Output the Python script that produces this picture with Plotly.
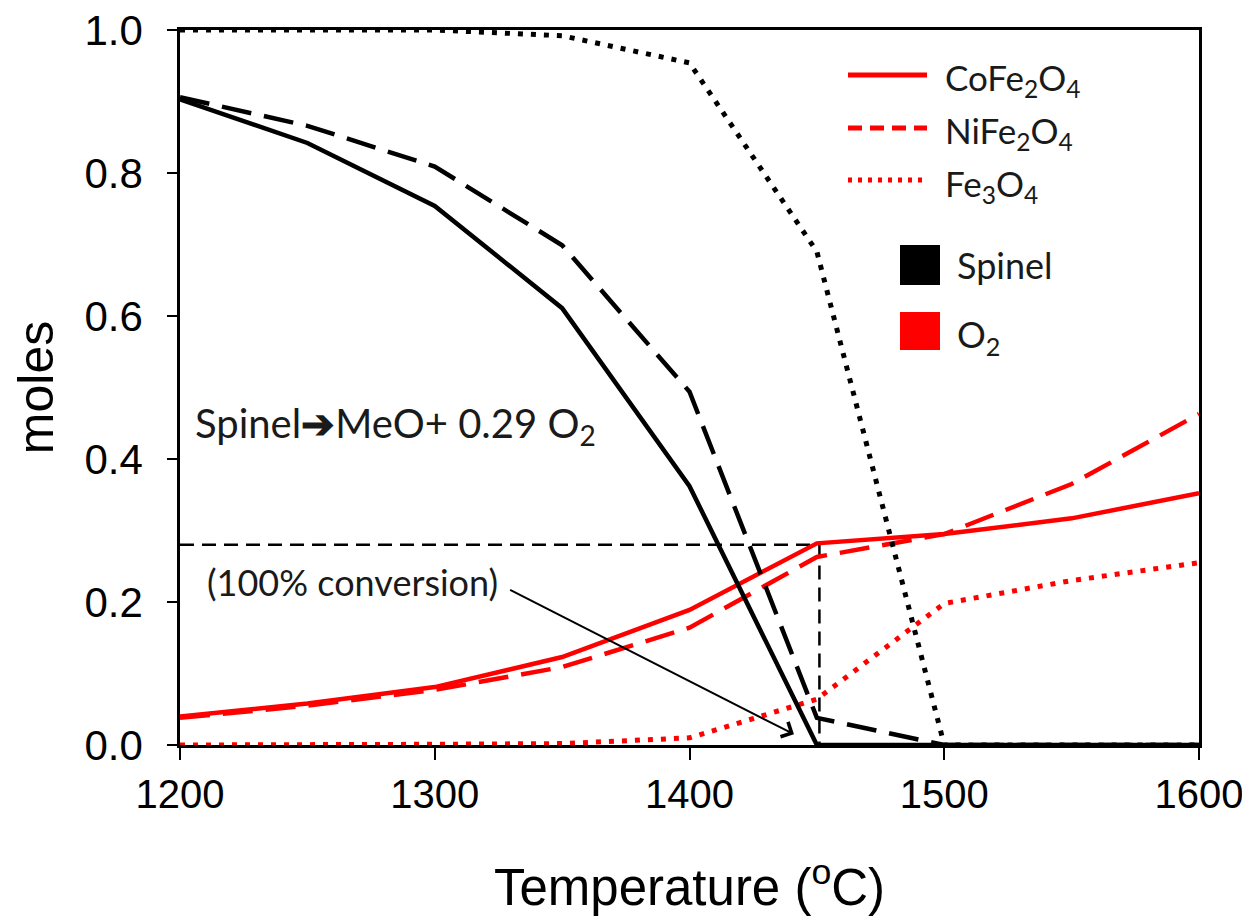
import plotly.graph_objects as go

# ---------------- data ----------------
temperature = [1200, 1250, 1300, 1350, 1400, 1450, 1500, 1550, 1600]

spinel_cofe2o4 = [0.903, 0.842, 0.754, 0.611, 0.362, 0.0, 0.0, 0.0, 0.0]
spinel_nife2o4 = [0.906, 0.866, 0.809, 0.699, 0.494, 0.038, 0.0, 0.0, 0.0]
spinel_fe3o4 = [1.0, 1.0, 1.0, 0.992, 0.954, 0.690, 0.0, 0.0, 0.0]

o2_cofe2o4 = [0.040, 0.058, 0.081, 0.123, 0.189, 0.282, 0.295, 0.317, 0.352]
o2_nife2o4 = [0.038, 0.055, 0.077, 0.109, 0.164, 0.263, 0.295, 0.365, 0.463]
o2_fe3o4 = [0.0, 0.0, 0.001, 0.002, 0.010, 0.064, 0.198, 0.230, 0.255]

conversion_T = [1200, 1451, 1451]
conversion_moles = [0.28, 0.28, 0.0]

x_ticks = [1200, 1300, 1400, 1500, 1600]
y_ticks = [0.0, 0.2, 0.4, 0.6, 0.8, 1.0]
y_tick_labels = ["0.0", "0.2", "0.4", "0.6", "0.8", "1.0"]

legend_labels = ["CoFe<sub>2</sub>O<sub>4</sub>", "NiFe<sub>2</sub>O<sub>4</sub>", "Fe<sub>3</sub>O<sub>4</sub>"]
legend_dashes = ["solid", "14px,8px", "4px,6px"]
colour_labels = ["Spinel", "O<sub>2</sub>"]
colours = ["black", "#ff0000"]

RED = "#ff0000"
TXT_FONT = "Lato"
AX_FONT = "Liberation Sans, Arial"

# page body has an 8px margin; figure is offset by it
W, H = 1242, 908
L, R, T, B = 172, 51, 22, 171
PW, PH = W - L - R, H - T - B   # plot area size in px


def px_to_paper(sx, sy):
    """screen-pixel position (reference picture) -> paper coordinates"""
    fx, fy = sx - 8, sy - 8
    return (fx - L) / PW, (H - B - fy) / PH


fig = go.Figure()

# conversion guide (thin dashed)
fig.add_trace(go.Scatter(x=conversion_T, y=conversion_moles, mode="lines",
                         line=dict(color="black", width=2.5, dash="14px,8px"),
                         showlegend=False, hoverinfo="skip"))

# O2 lines (red)
fig.add_trace(go.Scatter(x=temperature, y=o2_fe3o4, mode="lines",
                         line=dict(color=RED, width=5, dash="5px,8px"), showlegend=False))
fig.add_trace(go.Scatter(x=temperature, y=o2_nife2o4, mode="lines",
                         line=dict(color=RED, width=4.5, dash="30px,13px"), showlegend=False))
fig.add_trace(go.Scatter(x=temperature, y=o2_cofe2o4, mode="lines",
                         line=dict(color=RED, width=4.5), showlegend=False))

# Spinel lines (black)
fig.add_trace(go.Scatter(x=temperature, y=spinel_fe3o4, mode="lines",
                         line=dict(color="black", width=5, dash="5px,8px"), showlegend=False))
fig.add_trace(go.Scatter(x=temperature, y=spinel_nife2o4, mode="lines",
                         line=dict(color="black", width=4.5, dash="30px,13px"), showlegend=False))
fig.add_trace(go.Scatter(x=temperature, y=spinel_cofe2o4, mode="lines",
                         line=dict(color="black", width=4.5), showlegend=False))

# ---------------- manual legend ----------------
lx0, _ = px_to_paper(848, 0)
lx1, _ = px_to_paper(927, 0)
ltx, _ = px_to_paper(943, 0)
line_rows = [75, 128, 180]
for row, lab, dash in zip(line_rows, legend_labels, legend_dashes):
    _, yp = px_to_paper(0, row)
    _, yt = px_to_paper(0, row + 5)
    fig.add_shape(type="line", xref="paper", yref="paper", x0=lx0, x1=lx1, y0=yp, y1=yp,
                  line=dict(color=RED, width=5, dash=dash))
    fig.add_annotation(xref="paper", yref="paper", x=ltx, y=yt, text=lab,
                       showarrow=False, xanchor="left", yanchor="middle",
                       font=dict(family=TXT_FONT, size=35, color="#1a1a1a"))

sq_rows = [(245, 285), (312, 350)]
for (top, bot), lab, col in zip(sq_rows, colour_labels, colours):
    sx0, sy0 = px_to_paper(900, bot)
    sx1, sy1 = px_to_paper(940, top)
    fig.add_shape(type="rect", xref="paper", yref="paper",
                  x0=sx0, x1=sx1, y0=sy0, y1=sy1,
                  line=dict(width=0), fillcolor=col)
    tx, ty = px_to_paper(955, (top + bot) / 2 + (5 if "sub" in lab else 0))
    fig.add_annotation(xref="paper", yref="paper", x=tx, y=ty,
                       text=lab, showarrow=False, xanchor="left", yanchor="middle",
                       font=dict(family=TXT_FONT, size=36, color="#1a1a1a"))

# ---------------- text annotations ----------------
fig.add_annotation(x=1205, y=0.447, xref="x", yref="y",
                   text="Spinel<b>➔</b>MeO+ 0.29 O<sub>2</sub>", showarrow=False,
                   xanchor="left", yanchor="middle",
                   font=dict(family=TXT_FONT, size=40, color="#1a1a1a"))
fig.add_annotation(x=1210, y=0.228, xref="x", yref="y",
                   text="(100% conversion)", showarrow=False,
                   xanchor="left", yanchor="middle",
                   font=dict(family=TXT_FONT, size=36, color="#1a1a1a"))
fig.add_annotation(x=1441, y=0.015, xref="x", yref="y",
                   ax=1329, ay=0.218, axref="x", ayref="y",
                   text="", showarrow=True, arrowhead=4, arrowsize=1.6,
                   arrowwidth=2, arrowcolor="black")

fig.update_layout(
    width=W, height=H,
    margin=dict(l=L, r=R, t=T, b=B, autoexpand=False),
    paper_bgcolor="white", plot_bgcolor="white",
    showlegend=False,
    xaxis=dict(range=[1200, 1600], tickvals=x_ticks, ticks="outside", ticklen=12,
               tickwidth=2, tickcolor="black", showline=True, linecolor="black",
               linewidth=2.5, mirror=True, showgrid=False, zeroline=False,
               automargin=False, ticklabeloverflow="allow",
               tickfont=dict(family=AX_FONT, size=40, color="black"),
               title=dict(text="Temperature (<sup>o</sup>C)", standoff=57,
                          font=dict(family=AX_FONT, size=51, color="black"))),
    yaxis=dict(range=[0, 1], tickvals=y_ticks, ticktext=y_tick_labels, ticks="outside",
               ticklen=10, tickwidth=2, tickcolor="black", showline=True,
               linecolor="black", linewidth=2.5, mirror=True, showgrid=False,
               zeroline=False, automargin=False, ticklabelstandoff=16,
               ticklabeloverflow="allow",
               tickfont=dict(family=AX_FONT, size=42, color="black"),
               title=dict(text="moles", standoff=40,
                          font=dict(family=AX_FONT, size=50, color="black"))),
)

fig.write_html("out.html")
